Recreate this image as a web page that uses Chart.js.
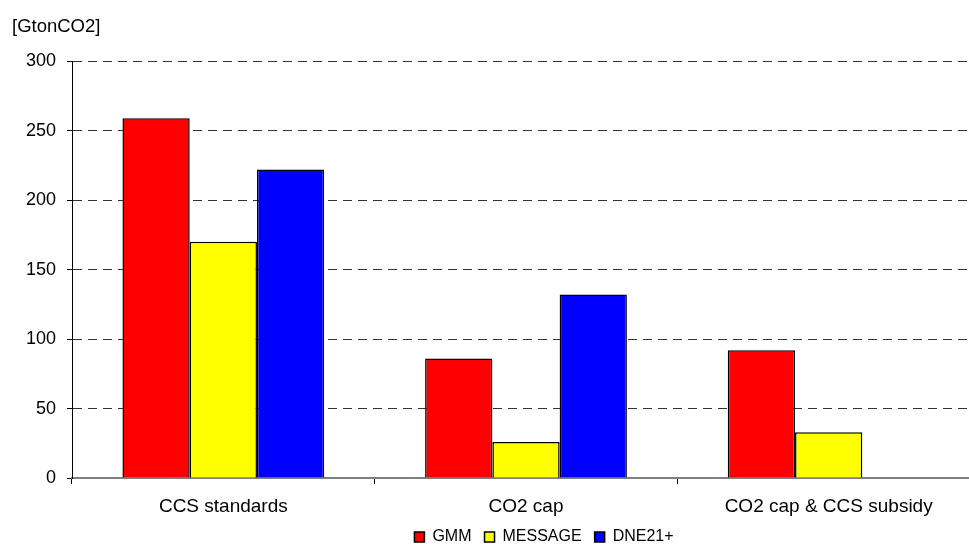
<!DOCTYPE html>
<html>
<head>
<meta charset="utf-8">
<script src="https://cdn.jsdelivr.net/npm/chart.js@4/dist/chart.umd.min.js"></script>
<style>
  html, body { margin: 0; padding: 0; background: #fff; overflow: hidden; }
  #wrap { position: relative; width: 1076px; height: 555px; }
</style>
</head>
<body>
<div id="wrap"><canvas id="c" width="1076" height="555"></canvas></div>
<script>
// Cumulative CO2 captured by scenario and model
const categories = ['CCS standards', 'CO2 cap', 'CO2 cap & CCS subsidy'];
const gmmValues = [259, 86, 92];
const messageValues = [170, 26, 33];
const dneValues = [222, 132, null];
const yTicks = [0, 50, 100, 150, 200, 250, 300];
const unitLabel = '[GtonCO2]';

const FONT = "'Liberation Sans', Arial, sans-serif";

new Chart(document.getElementById('c'), {
  type: 'bar',
  data: {
    labels: categories,
    datasets: [
      { label: 'GMM', data: gmmValues, backgroundColor: '#ff0000' },
      { label: 'MESSAGE', data: messageValues, backgroundColor: '#ffff00' },
      { label: 'DNE21+', data: dneValues, backgroundColor: '#0000ff' }
    ]
  },
  options: {
    responsive: false,
    animation: false,
    events: [],
    layout: { padding: { left: 12, right: 0, top: 6, bottom: 0 } },
    datasets: {
      bar: {
        categoryPercentage: 2 / 3,
        barPercentage: 1,
        borderColor: '#000',
        borderWidth: 1.5,
        borderSkipped: 'start'
      }
    },
    plugins: {
      title: {
        display: true,
        text: unitLabel,
        align: 'start',
        color: '#000',
        font: { family: FONT, size: 18.5, weight: 'normal' },
        padding: { top: 10, bottom: 23 }
      },
      legend: {
        position: 'bottom',
        labels: {
          color: '#000',
          font: { family: FONT, size: 16 },
          boxWidth: 10,
          boxHeight: 10,
          padding: 13
        }
      },
      tooltip: { enabled: false }
    },
    scales: {
      x: {
        afterFit: (scale) => { scale.height = 38; },
        grid: { drawOnChartArea: false, drawTicks: true, tickLength: 6, color: '#000', offset: true },
        border: { color: '#808080', width: 2 },
        ticks: { color: '#000', font: { family: FONT, size: 19 }, padding: 11, maxRotation: 0 }
      },
      y: {
        min: 0,
        max: 300,
        afterBuildTicks: (scale) => { scale.ticks = yTicks.map(v => ({ value: v })); },
        afterFit: (scale) => { scale.width = 60; },
        grid: {
          color: '#333',
          lineWidth: 1,
          tickLength: 5,
          tickColor: '#000'
        },
        border: { color: '#000', width: 1, dash: [9, 6] },
        ticks: { color: '#000', font: { family: FONT, size: 18 }, padding: 11 }
      },
      // spacer on the right so the centred legend sits under the plot like the original layout
      spacer: {
        type: 'linear',
        position: 'right',
        display: true,
        grid: { display: false },
        border: { display: false },
        ticks: { display: false },
        afterFit: (scale) => { scale.width = 96; }
      }
    }
  }
});
</script>
</body>
</html>
